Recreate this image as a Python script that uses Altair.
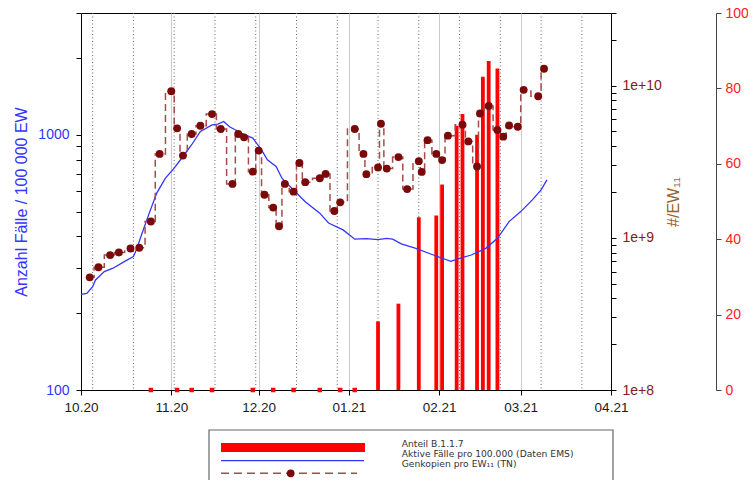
import altair as alt
import pandas as pd

# ---- Aktive Fälle pro 100.000 (Daten EMS) – left log axis
cases_dates = ["2020-10-01", "2020-10-03", "2020-10-05", "2020-10-06", "2020-10-09", "2020-10-12",
               "2020-10-16", "2020-10-19", "2020-10-20", "2020-10-21", "2020-10-22", "2020-10-24",
               "2020-10-27", "2020-10-30", "2020-11-02", "2020-11-05", "2020-11-08", "2020-11-11",
               "2020-11-15", "2020-11-17", "2020-11-19", "2020-11-21", "2020-11-25", "2020-11-29",
               "2020-12-02", "2020-12-04", "2020-12-07", "2020-12-09", "2020-12-13", "2020-12-17",
               "2020-12-22", "2020-12-25", "2020-12-30", "2021-01-03", "2021-01-07", "2021-01-11",
               "2021-01-14", "2021-01-16", "2021-01-19", "2021-01-24", "2021-01-30", "2021-02-05",
               "2021-02-08", "2021-02-12", "2021-02-17", "2021-02-21", "2021-02-25", "2021-03-01",
               "2021-03-05", "2021-03-08", "2021-03-10"]
cases_values = [237, 239, 254, 270, 291, 300,
                319, 333, 354, 382, 412, 478,
                591, 676, 740, 822, 914, 1030,
                1094, 1100, 1128, 1075, 1016, 970,
                873, 798, 751, 676, 608, 547,
                493, 451, 424, 390, 392, 388,
                393, 390, 374, 359, 338, 319,
                328, 338, 359, 393, 457, 500,
                556, 608, 666]

# ---- Genkopien pro EW11 (TN) – middle log axis
copies_dates = ["2020-10-04", "2020-10-07", "2020-10-11", "2020-10-14", "2020-10-18", "2020-10-21",
                "2020-10-25", "2020-10-28", "2020-11-01", "2020-11-03", "2020-11-05", "2020-11-08",
                "2020-11-11", "2020-11-15", "2020-11-18", "2020-11-22", "2020-11-24", "2020-11-26",
                "2020-11-29", "2020-12-01", "2020-12-03", "2020-12-06", "2020-12-08", "2020-12-10",
                "2020-12-13", "2020-12-15", "2020-12-17", "2020-12-22", "2020-12-24", "2020-12-27",
                "2020-12-29", "2021-01-03", "2021-01-06", "2021-01-07", "2021-01-11", "2021-01-12",
                "2021-01-14", "2021-01-18", "2021-01-21", "2021-01-25", "2021-01-26", "2021-01-28",
                "2021-01-31", "2021-02-02", "2021-02-04", "2021-02-09", "2021-02-11", "2021-02-14",
                "2021-02-15", "2021-02-18", "2021-02-21", "2021-02-23", "2021-02-25", "2021-02-28",
                "2021-03-02", "2021-03-07", "2021-03-09"]
copies_values = [5.5e8, 6.4e8, 7.7e8, 8.0e8, 8.5e8, 8.6e8,
                 1.28e9, 3.56e9, 9.2e9, 5.24e9, 3.47e9, 4.81e9,
                 5.45e9, 6.5e9, 5.19e9, 2.26e9, 4.81e9, 4.57e9,
                 2.72e9, 3.74e9, 1.92e9, 1.58e9, 1.19e9, 2.26e9,
                 2.01e9, 3.1e9, 2.32e9, 2.46e9, 2.63e9, 1.5e9,
                 1.71e9, 5.19e9, 3.56e9, 2.62e9, 2.9e9, 5.62e9,
                 2.85e9, 3.39e9, 2.09e9, 3.19e9, 2.71e9, 4.38e9,
                 3.56e9, 3.24e9, 4.69e9, 5.53e9, 4.3e9, 2.94e9,
                 6.56e9, 7.34e9, 5.11e9, 4.62e9, 5.47e9, 5.37e9,
                 9.38e9, 8.51e9, 1.29e10]

# ---- Anteil B.1.1.7 [%] – far right linear axis
share_dates = ["2020-10-25", "2020-11-03", "2020-11-08", "2020-11-15", "2020-11-29", "2020-12-06",
               "2020-12-13", "2020-12-22", "2020-12-29", "2021-01-03",
               "2021-01-11", "2021-01-18", "2021-01-25", "2021-01-31", "2021-02-02", "2021-02-07",
               "2021-02-09", "2021-02-14", "2021-02-16", "2021-02-18", "2021-02-21"]
share_values = [0, 0, 0, 0, 0, 0,
                0, 0, 0, 0,
                18.2, 22.9, 45.8, 46.3, 54.5, 70.1,
                73.2, 67.7, 83.1, 87.3, 85.3]

# dotted reference lines (every second Monday)
grid_dates = ["2020-10-05", "2020-10-19", "2020-11-02", "2020-11-16", "2020-11-30", "2020-12-14",
              "2020-12-28", "2021-01-11", "2021-01-25", "2021-02-08", "2021-02-22", "2021-03-08",
              "2021-03-22"]

left_ticks = [100, 200, 300, 400, 500, 600, 700, 800, 900, 1000, 2000, 3000]
left_label_values = [100, 1000]
left_label_text = ["100", "1000"]

mid_ticks = [1e8, 2e8, 3e8, 4e8, 5e8, 6e8, 7e8, 8e8, 9e8,
             1e9, 2e9, 3e9, 4e9, 5e9, 6e9, 7e9, 8e9, 9e9, 1e10, 2e10, 3e10]
mid_label_values = [1e8, 1e9, 1e10]
mid_label_text = ["1e+8", "1e+9", "1e+10"]

right_ticks = [0, 20, 40, 60, 80, 100]

legend_labels = ["Anteil B.1.1.7", "Aktive Fälle pro 100.000 (Daten EMS)", "Genkopien pro EW₁₁ (TN)"]

# ---------------------------------------------------------------- tables
cases_df = pd.DataFrame({"date": cases_dates, "cases": cases_values})
copies_df = pd.DataFrame({"date": copies_dates, "copies": copies_values})
share_df = pd.DataFrame({"date": share_dates, "share": share_values})
zero_df = share_df[share_df["share"] == 0]
bar_df = share_df[share_df["share"] > 0]
grid_df = pd.DataFrame({"date": grid_dates})
one = pd.DataFrame({"k": [0]})


def label_expr(vals, texts):
    expr = "''"
    for v, t in reversed(list(zip(vals, texts))):
        expr = f"datum.value == {int(v)} ? '{t}' : ({expr})"
    return expr


BLUE = "#3434ff"
RED = "#ff0000"
BROWN_PT = "#7a0a0a"
BROWN_LINE = "#a84a4a"

X = alt.X(
    "date:T",
    scale=alt.Scale(type="utc", nice=False, padding=0,
                    domain=[alt.DateTime(year=2020, month=10, date=1, utc=True),
                            alt.DateTime(year=2021, month=4, date=1, utc=True)]),
    axis=alt.Axis(format="%m.%y", tickCount={"interval": "month", "step": 1}, grid=True,
                  gridColor="#cccccc", gridWidth=1, labelFontSize=13.5, labelColor="#1a1a1a",
                  title=None, domainColor="black", tickColor="black", tickSize=5,
                  labelPadding=5, labelFlush=False),
)

grid = alt.Chart(grid_df).mark_rule(color="#666666", strokeDash=[1, 2.5], strokeWidth=1).encode(x=X)

bars = alt.Chart(bar_df).mark_bar(width=3.8, color=RED).encode(
    x=X,
    y=alt.Y("share:Q", scale=alt.Scale(domain=[0, 100]),
            axis=alt.Axis(orient="right", offset=105, values=right_ticks, labelColor="#ff2020",
                          labelFontSize=14, title="Anteil B.1.1.7 [%]", titleColor="#ff2020",
                          titleFontSize=16, titleFontWeight="normal", titleAngle=270,
                          titlePadding=16,
                          domainColor="#444444", tickColor="#444444", tickSize=5,
                          labelPadding=4, grid=False)),
)
zeros = alt.Chart(zero_df).mark_square(size=20, color=RED, opacity=1).encode(
    x=X,
    y=alt.Y("share:Q", scale=alt.Scale(domain=[0, 100]), axis=None),
)

blue = alt.Chart(cases_df).mark_line(color=BLUE, strokeWidth=1.3).encode(
    x=X,
    y=alt.Y("cases:Q", scale=alt.Scale(type="log", domain=[100, 3000]),
            axis=alt.Axis(orient="left", values=left_ticks,
                          labelExpr=label_expr(left_label_values, left_label_text),
                          labelColor=BLUE, labelFontSize=14, title="Anzahl Fälle / 100 000 EW",
                          titleColor=BLUE, titleFontSize=16, titleFontWeight="normal",
                          titlePadding=8, domainColor="black", tickColor="black", tickSize=5,
                          labelPadding=7, grid=False, labelOverlap=False)),
)

brown_line = alt.Chart(copies_df).mark_line(interpolate="step", strokeDash=[7, 4], strokeWidth=1.5,
                                            color=BROWN_LINE).encode(
    x=X,
    y=alt.Y("copies:Q", scale=alt.Scale(type="log", domain=[1e8, 3e10]),
            axis=alt.Axis(orient="right", values=mid_ticks,
                          labelExpr=label_expr(mid_label_values, mid_label_text),
                          labelColor="#7f2020", labelFontSize=14, title="#/EW₁₁",
                          titleColor="#a0602a", titleFontSize=16, titleFontWeight="normal",
                          titleAngle=270, titlePadding=20, domainColor="black",
                          tickColor="black", tickSize=5, labelPadding=6, grid=False,
                          labelOverlap=False)),
)
brown_pts = alt.Chart(copies_df).mark_circle(size=62, color=BROWN_PT, opacity=1).encode(
    x=X,
    y=alt.Y("copies:Q", scale=alt.Scale(type="log", domain=[1e8, 3e10]), axis=None),
)

# ---------------------------------------------------------------- legend (below plot)
leg_box = alt.Chart(one).mark_rect(fill="white", stroke="#666666", strokeWidth=1.2).encode(
    x=alt.value(128), x2=alt.value(532), y=alt.value(417), y2=alt.value(520))
leg_red = alt.Chart(one).mark_rect(color=RED).encode(
    x=alt.value(140), x2=alt.value(284), y=alt.value(430), y2=alt.value(439))
leg_blue = alt.Chart(one).mark_rule(color=BLUE, strokeWidth=1.3).encode(
    x=alt.value(140), x2=alt.value(283), y=alt.value(447.7))
leg_brown = alt.Chart(one).mark_rule(color=BROWN_LINE, strokeWidth=1.5, strokeDash=[8, 5]).encode(
    x=alt.value(140), x2=alt.value(276), y=alt.value(460.3))
leg_dot = alt.Chart(one).mark_circle(size=60, color=BROWN_PT, opacity=1).encode(
    x=alt.value(209.7), y=alt.value(460.3))
leg_texts = []
for lab, ty in zip(legend_labels, [431, 441, 451]):
    leg_texts.append(
        alt.Chart(one).mark_text(text=lab, align="left", baseline="middle", font="DejaVu Sans",
                                 fontSize=9.2, color="#333333").encode(
            x=alt.value(320.7), y=alt.value(ty)))

chart = alt.layer(
    grid, bars, zeros, blue, brown_line, brown_pts,
    leg_box, leg_red, leg_blue, leg_brown, leg_dot, *leg_texts,
).resolve_scale(y="independent").properties(
    width=530, height=377,
    autosize=alt.AutoSizeParams(type="none"),
    padding={"left": 73, "top": 5, "right": 137, "bottom": 90},
).configure_view(stroke="black", strokeWidth=1).configure_axis(
    labelFont="Liberation Sans", titleFont="Liberation Sans")

chart.save("out.html", embed_options={"renderer": "svg", "actions": False})
